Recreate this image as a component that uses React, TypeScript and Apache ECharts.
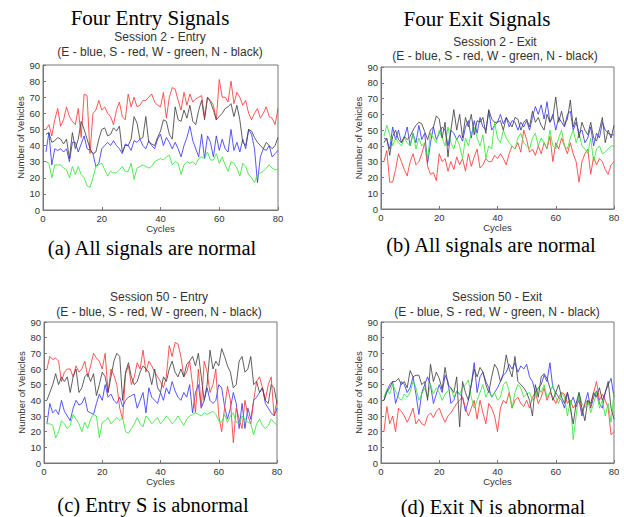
import React, { useEffect, useRef } from "react";
import * as echarts from "echarts";

const cycleStart = 1;

// Panel (a) Session 2 - Entry
const entry2E = [36, 48, 28, 38, 37, 38, 36, 38, 30, 42, 42, 36, 41, 46, 38, 37, 35, 27, 29, 38, 40, 42, 40, 43, 40, 38, 35, 41, 40, 37, 43, 42, 44, 40, 38, 43, 40, 38, 44, 47, 40, 45, 42, 38, 42, 38, 33, 40, 45, 52, 43, 38, 33, 47, 32, 46, 42, 33, 46, 37, 44, 38, 36, 50, 37, 42, 36, 44, 38, 50, 47, 38, 17, 33, 38, 37, 40, 33, 35, 37];
const entry2S = [50, 53, 46, 56, 63, 52, 56, 64, 58, 55, 53, 63, 45, 72, 71, 35, 60, 62, 68, 62, 64, 60, 58, 53, 62, 67, 58, 56, 72, 64, 70, 64, 65, 68, 68, 70, 72, 67, 65, 64, 73, 57, 70, 76, 75, 68, 62, 73, 65, 72, 67, 69, 70, 71, 58, 70, 68, 65, 56, 81, 70, 70, 67, 80, 66, 73, 70, 65, 68, 60, 56, 60, 63, 57, 60, 64, 58, 57, 53, 63];
const entry2W = [30, 29, 20, 28, 28, 28, 26, 25, 20, 27, 22, 27, 22, 20, 15, 14, 20, 27, 28, 29, 25, 21, 24, 23, 23, 25, 27, 24, 24, 29, 19, 26, 27, 28, 27, 26, 27, 30, 31, 32, 31, 33, 34, 28, 30, 29, 22, 28, 30, 29, 30, 28, 32, 33, 32, 36, 31, 31, 35, 29, 33, 28, 24, 30, 29, 26, 21, 29, 27, 22, 20, 17, 22, 23, 24, 26, 28, 26, 25, 25];
const entry2N = [47, 48, 42, 43, 45, 44, 41, 44, 32, 48, 38, 44, 55, 50, 44, 38, 35, 36, 44, 50, 51, 46, 47, 51, 49, 52, 36, 40, 40, 44, 58, 54, 44, 45, 58, 42, 41, 40, 45, 49, 56, 55, 47, 44, 64, 56, 55, 62, 57, 65, 55, 53, 62, 68, 56, 70, 67, 62, 56, 58, 60, 63, 64, 66, 58, 65, 56, 42, 40, 50, 49, 45, 42, 40, 38, 42, 40, 38, 40, 45];

// Panel (b) Session 2 - Exit
const exit2E = [45, 44, 38, 52, 44, 50, 42, 45, 52, 40, 48, 42, 53, 44, 48, 29, 42, 52, 44, 48, 52, 50, 40, 50, 48, 44, 47, 43, 52, 56, 45, 56, 48, 58, 52, 50, 62, 50, 53, 55, 60, 54, 58, 52, 56, 55, 50, 55, 52, 56, 50, 58, 65, 60, 66, 57, 68, 55, 60, 50, 58, 55, 52, 60, 62, 50, 55, 48, 50, 42, 45, 52, 40, 48, 45, 55, 50, 48, 47, 47];
const exit2S = [30, 37, 17, 17, 25, 35, 30, 25, 21, 30, 35, 28, 30, 35, 42, 27, 22, 23, 18, 35, 30, 32, 24, 30, 25, 33, 28, 32, 24, 35, 27, 33, 38, 26, 28, 32, 30, 30, 34, 32, 35, 32, 28, 35, 40, 38, 42, 36, 50, 44, 36, 38, 34, 40, 35, 42, 38, 46, 30, 42, 38, 45, 40, 35, 42, 35, 30, 17, 30, 35, 38, 22, 33, 28, 32, 30, 25, 22, 28, 30];
const exit2W = [46, 53, 47, 40, 45, 42, 40, 45, 42, 40, 48, 38, 45, 40, 42, 32, 48, 45, 42, 50, 45, 40, 52, 42, 38, 45, 40, 32, 45, 40, 48, 52, 45, 40, 47, 32, 40, 38, 55, 45, 42, 50, 45, 42, 40, 38, 45, 48, 42, 40, 38, 45, 48, 40, 45, 42, 38, 50, 40, 38, 45, 50, 40, 38, 45, 50, 42, 48, 40, 38, 35, 45, 30, 38, 40, 35, 36, 38, 40, 40];
const exit2N = [42, 45, 34, 46, 50, 44, 42, 46, 44, 46, 50, 53, 55, 54, 49, 44, 50, 52, 59, 57, 45, 55, 33, 50, 63, 50, 60, 45, 58, 52, 60, 47, 56, 55, 58, 48, 63, 57, 55, 55, 56, 50, 58, 55, 52, 58, 57, 50, 55, 57, 52, 62, 55, 58, 53, 50, 60, 55, 58, 71, 55, 62, 53, 57, 69, 52, 58, 45, 55, 50, 47, 55, 45, 43, 50, 58, 42, 50, 45, 53];

// Panel (c) Session 50 - Entry
const entry50E = [25, 38, 32, 34, 31, 40, 33, 30, 27, 35, 40, 37, 38, 42, 33, 32, 31, 38, 44, 40, 50, 42, 44, 40, 38, 42, 36, 40, 42, 43, 44, 35, 40, 45, 32, 48, 42, 40, 38, 45, 40, 48, 44, 52, 46, 42, 40, 45, 42, 50, 32, 45, 50, 35, 40, 48, 40, 38, 40, 50, 48, 36, 28, 35, 45, 38, 22, 38, 22, 35, 28, 40, 42, 45, 48, 38, 35, 32, 30, 35];
const entry50S = [60, 68, 66, 67, 65, 52, 58, 60, 60, 55, 62, 58, 60, 65, 55, 62, 70, 67, 65, 60, 70, 45, 60, 56, 50, 35, 28, 57, 62, 50, 55, 64, 60, 72, 58, 65, 62, 58, 55, 52, 48, 55, 75, 68, 77, 76, 68, 55, 58, 65, 50, 32, 60, 35, 65, 58, 45, 50, 60, 30, 20, 35, 49, 40, 13, 35, 28, 22, 40, 30, 25, 40, 52, 55, 48, 40, 50, 55, 30, 40];
const entry50W = [25, 25, 24, 16, 20, 27, 25, 22, 24, 31, 28, 25, 20, 26, 22, 28, 31, 30, 16, 26, 27, 29, 25, 27, 29, 27, 29, 20, 19, 22, 25, 29, 25, 23, 30, 28, 25, 27, 29, 25, 27, 30, 28, 25, 27, 30, 27, 24, 28, 30, 31, 32, 31, 30, 32, 31, 32, 33, 31, 27, 26, 31, 26, 30, 32, 26, 25, 30, 28, 26, 25, 18, 25, 28, 24, 22, 24, 28, 26, 24];
const entry50N = [40, 45, 50, 57, 50, 55, 52, 55, 45, 55, 60, 45, 48, 55, 57, 52, 57, 43, 50, 58, 55, 45, 55, 65, 70, 68, 40, 58, 64, 55, 50, 52, 58, 62, 60, 58, 50, 60, 48, 45, 55, 52, 60, 65, 58, 55, 60, 55, 63, 65, 68, 62, 70, 55, 40, 50, 72, 60, 65, 62, 73, 68, 62, 58, 48, 50, 65, 68, 58, 60, 68, 50, 52, 45, 48, 40, 38, 50, 48, 38];

// Panel (d) Session 50 - Exit
const exit50E = [40, 46, 50, 52, 38, 44, 52, 50, 45, 48, 55, 44, 31, 45, 50, 55, 50, 38, 44, 50, 45, 56, 52, 38, 40, 46, 44, 42, 33, 40, 50, 64, 45, 55, 58, 52, 48, 42, 45, 48, 52, 56, 58, 63, 60, 64, 58, 62, 60, 63, 55, 52, 45, 48, 50, 56, 52, 64, 48, 45, 42, 40, 35, 45, 38, 42, 36, 40, 30, 38, 45, 35, 42, 46, 38, 35, 45, 50, 54, 42];
const exit50S = [20, 36, 25, 30, 20, 35, 33, 30, 26, 30, 35, 25, 28, 25, 24, 30, 32, 29, 33, 35, 30, 26, 30, 32, 35, 38, 40, 42, 35, 30, 35, 40, 28, 40, 32, 25, 38, 35, 30, 20, 35, 40, 38, 45, 35, 40, 42, 38, 36, 40, 35, 42, 45, 38, 42, 48, 40, 45, 42, 38, 42, 45, 44, 38, 40, 35, 38, 42, 32, 38, 40, 36, 45, 52, 40, 44, 40, 35, 18, 20];
const exit50W = [42, 47, 44, 50, 46, 42, 40, 44, 42, 45, 52, 48, 40, 44, 48, 42, 50, 44, 48, 45, 40, 44, 46, 48, 42, 46, 44, 48, 50, 53, 42, 35, 40, 45, 50, 42, 46, 42, 45, 40, 42, 50, 52, 46, 35, 45, 50, 48, 42, 44, 45, 40, 42, 48, 45, 50, 42, 45, 50, 42, 38, 45, 42, 30, 40, 15, 30, 45, 38, 35, 40, 32, 38, 45, 35, 40, 30, 38, 26, 45];
const exit50N = [40, 45, 48, 52, 52, 54, 50, 52, 48, 59, 55, 56, 56, 50, 52, 40, 63, 52, 58, 54, 47, 61, 50, 48, 45, 55, 23, 52, 45, 40, 50, 60, 55, 61, 58, 50, 45, 55, 63, 60, 52, 57, 69, 60, 55, 68, 52, 50, 48, 45, 40, 30, 50, 42, 55, 57, 54, 48, 40, 45, 50, 42, 38, 45, 35, 25, 38, 45, 35, 27, 40, 38, 45, 42, 48, 40, 45, 52, 35, 28];

const panelTitles = ["Session 2 - Entry", "Session 2 - Exit", "Session 50 - Entry", "Session 50 - Exit"];
const legendLine = "(E - blue, S - red, W - green, N - black)";
const captions = ["(a) All signals are normal", "(b) All signals are normal", "(c) Entry S is abnormal", "(d) Exit N is abnormal"];
const columnTitles = ["Four Entry Signals", "Four Exit Signals"];
const xTicks = [0, 20, 40, 60, 80];
const yTicks = [0, 10, 20, 30, 40, 50, 60, 70, 80, 90];
const seriesColors = ["#3a3aff", "#ff3a3a", "#3ae63a", "#444444"];

const panels = [
  [entry2E, entry2S, entry2W, entry2N],
  [exit2E, exit2S, exit2W, exit2N],
  [entry50E, entry50S, entry50W, entry50N],
  [exit50E, exit50S, exit50W, exit50N],
];

const grids = [
  { left: 43, top: 65, width: 235, height: 145 },
  { left: 381, top: 67, width: 233, height: 142 },
  { left: 44, top: 322, width: 233, height: 141 },
  { left: 381, top: 322, width: 233, height: 141 },
];

export default function App() {
  const ref = useRef<HTMLDivElement>(null);
  useEffect(() => {
    if (!ref.current) return;
    const chart = echarts.init(ref.current, null, { renderer: "svg" });
    const sans = "Liberation Sans, Arial, sans-serif";
    const serif = "Liberation Serif, Times New Roman, serif";
    const xAxes: any[] = [];
    const yAxes: any[] = [];
    const series: any[] = [];
    const graphics: any[] = [];
    grids.forEach((g, i) => {
      xAxes.push({
        type: "value", gridIndex: i, min: xTicks[0], max: xTicks[xTicks.length - 1], interval: 20,
        name: "Cycles", nameLocation: "middle", nameGap: 13,
        nameTextStyle: { fontFamily: sans, fontSize: 9.5, color: "#333" },
        axisLine: { show: true, onZero: false, lineStyle: { color: "#777" } },
        axisTick: { show: true, inside: true, length: 3, lineStyle: { color: "#777" } },
        axisLabel: { fontFamily: sans, fontSize: 9.5, color: "#333", margin: 3 },
        splitLine: { show: false },
      });
      yAxes.push({
        type: "value", gridIndex: i, min: yTicks[0], max: yTicks[yTicks.length - 1], interval: 10,
        name: "Number of Vehicles", nameLocation: "middle", nameGap: 17, nameRotate: 90,
        nameTextStyle: { fontFamily: sans, fontSize: 9.5, color: "#333" },
        axisLine: { show: true, lineStyle: { color: "#777" } },
        axisTick: { show: true, inside: true, length: 3, lineStyle: { color: "#777" } },
        axisLabel: { fontFamily: sans, fontSize: 9.5, color: "#333", margin: 3 },
        splitLine: { show: false },
      });
      panels[i].forEach((arr, k) => {
        series.push({
          type: "line", xAxisIndex: i, yAxisIndex: i, symbol: "none",
          data: arr.map((v, j) => [cycleStart + j, v]),
          lineStyle: { color: seriesColors[k], width: 1, opacity: 0.85 },
          itemStyle: { color: seriesColors[k] },
        });
      });
    });
    const subPos = [
      { x: 160, y1: 37, y2: 52 },
      { x: 495, y1: 42, y2: 56 },
      { x: 159, y1: 297, y2: 312 },
      { x: 497, y1: 297, y2: 312 },
    ];
    subPos.forEach((p, i) => {
      graphics.push({ type: "text", x: p.x, y: p.y1, style: { text: panelTitles[i], fontFamily: sans, fontSize: 12, fill: "#333", textAlign: "center", textVerticalAlign: "middle" } });
      graphics.push({ type: "text", x: p.x, y: p.y2, style: { text: legendLine, fontFamily: sans, fontSize: 12, fill: "#333", textAlign: "center", textVerticalAlign: "middle" } });
    });
    const capPos = [
      { x: 152, y: 248 }, { x: 491, y: 245 }, { x: 153, y: 505 }, { x: 493, y: 507 },
    ];
    capPos.forEach((p, i) => {
      graphics.push({ type: "text", x: p.x, y: p.y, style: { text: captions[i], fontFamily: serif, fontSize: 20.5, fill: "#000", textAlign: "center", textVerticalAlign: "middle" } });
    });
    graphics.push({ type: "text", x: 150, y: 18, style: { text: columnTitles[0], fontFamily: serif, fontSize: 21, fill: "#000", textAlign: "center", textVerticalAlign: "middle" } });
    graphics.push({ type: "text", x: 477, y: 19, style: { text: columnTitles[1], fontFamily: serif, fontSize: 21, fill: "#000", textAlign: "center", textVerticalAlign: "middle" } });

    chart.setOption({
      animation: false,
      backgroundColor: "#fff",
      grid: grids.map((g) => ({ ...g, show: true, borderColor: "#777", borderWidth: 1, backgroundColor: "#fff", containLabel: false })),
      xAxis: xAxes,
      yAxis: yAxes,
      series,
      graphic: graphics,
    });
    return () => chart.dispose();
  }, []);
  return <div ref={ref} style={{ position: "fixed", left: 0, top: 0, width: 624, height: 517 }} />;
}
